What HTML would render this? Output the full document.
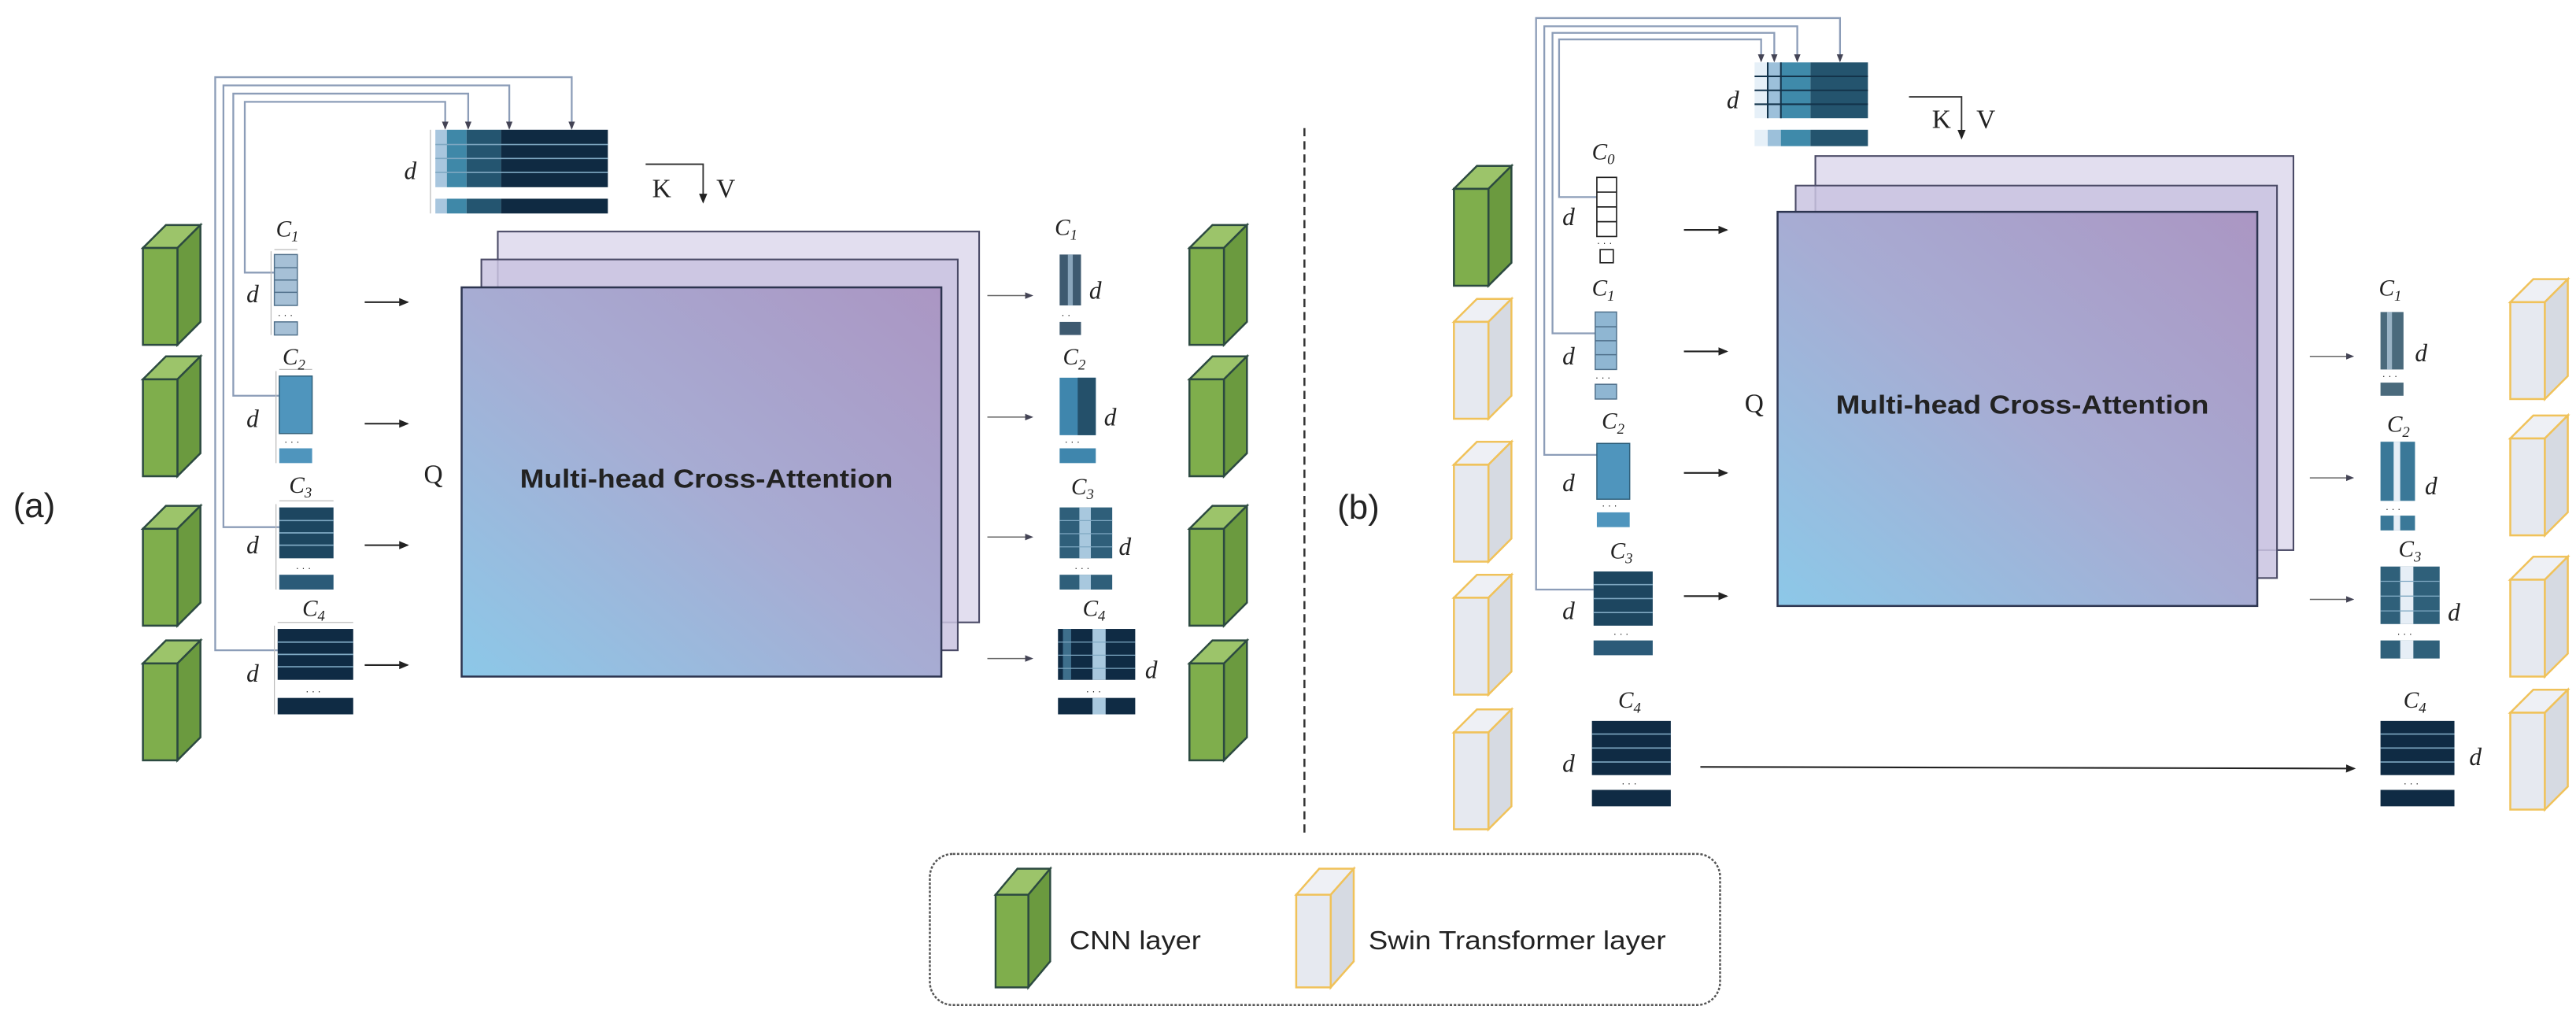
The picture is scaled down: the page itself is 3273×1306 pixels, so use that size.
<!DOCTYPE html>
<html><head><meta charset="utf-8"><style>
html,body{margin:0;padding:0;background:#fff;}
svg{display:block;}
.sf{font-family:"Liberation Serif",serif;font-style:italic;fill:#222;}
.ss{font-family:"Liberation Sans",sans-serif;fill:#222;}
</style></head><body>
<svg width="3273" height="1306" viewBox="0 0 1568 626" preserveAspectRatio="none" xmlns="http://www.w3.org/2000/svg">
<defs>
<linearGradient id="mg" x1="0" y1="1" x2="1" y2="0">
<stop offset="0" stop-color="#8cc8e8"/><stop offset="0.5" stop-color="#a7acd3"/><stop offset="1" stop-color="#ab96c3"/>
</linearGradient>
<marker id="ar" markerWidth="6" markerHeight="6" refX="5" refY="3" orient="auto" markerUnits="userSpaceOnUse">
<path d="M0,0.5 L6,3 L0,5.5 z" fill="#222"/></marker>
<marker id="ar2" markerWidth="5" markerHeight="5" refX="4" refY="2.5" orient="auto" markerUnits="userSpaceOnUse">
<path d="M0,0.5 L5,2.5 L0,4.5 z" fill="#445"/></marker>
<g id="gc">
<polygon points="0,14 14,0 35,0 21,14" fill="#9cc46a" stroke="#2c4a40" stroke-width="1.2"/>
<polygon points="21,14 35,0 35,59 21,73" fill="#6b9a3f" stroke="#2c4a40" stroke-width="1.2"/>
<rect x="0" y="14" width="21" height="59" fill="#7fae4c" stroke="#2c4a40" stroke-width="1.2"/>
</g>
<g id="yc">
<polygon points="0,14 14,0 35,0 21,14" fill="#eef0f5" stroke="#f0c25a" stroke-width="1.2"/>
<polygon points="21,14 35,0 35,59 21,73" fill="#d6dae2" stroke="#f0c25a" stroke-width="1.2"/>
<rect x="0" y="14" width="21" height="59" fill="#e6e9f0" stroke="#f0c25a" stroke-width="1.2"/>
</g>
</defs>

<!-- Panel a -->
<text x="8" y="315" class="ss" font-size="21">(a)</text>
<use href="#gc" x="87" y="137"/><use href="#gc" x="87" y="217"/><use href="#gc" x="87" y="308"/><use href="#gc" x="87" y="390"/>
<use href="#gc" x="724" y="137"/><use href="#gc" x="724" y="217"/><use href="#gc" x="724" y="308"/><use href="#gc" x="724" y="390"/>

<g fill="none" stroke="#8c9db8" stroke-width="1.1">
<polyline points="167,166 149,166 149,62 271,62 271,78" marker-end="url(#ar2)"/>
<polyline points="170,241 142,241 142,57 285,57 285,78" marker-end="url(#ar2)"/>
<polyline points="170,321 136,321 136,52 310,52 310,78" marker-end="url(#ar2)"/>
<polyline points="169,396 131,396 131,47 348,47 348,78" marker-end="url(#ar2)"/>
</g>
<!-- KV matrix a -->
<rect x="265" y="79" width="7" height="35" fill="#a8c6de"/>
<rect x="272" y="79" width="12" height="35" fill="#3f88a8"/>
<rect x="284" y="79" width="21" height="35" fill="#245570"/>
<rect x="305" y="79" width="65" height="35" fill="#0f2a42"/>
<g stroke="#7fa8c2" stroke-width="0.8"><line x1="265" y1="88" x2="370" y2="88"/><line x1="265" y1="96.5" x2="370" y2="96.5"/><line x1="265" y1="105" x2="370" y2="105"/></g>
<rect x="265" y="121" width="7" height="9" fill="#a8c6de"/><rect x="272" y="121" width="12" height="9" fill="#3f88a8"/><rect x="284" y="121" width="21" height="9" fill="#245570"/><rect x="305" y="121" width="65" height="9" fill="#0f2a42"/>
<line x1="262" y1="79" x2="262" y2="130" stroke="#bbb" stroke-width="0.6"/>
<text x="246" y="109" class="sf" font-size="15">d</text>
<polyline points="393,100 428,100 428,123" fill="none" stroke="#333" stroke-width="0.9" marker-end="url(#ar)"/>
<text x="397" y="120" font-family="Liberation Serif,serif" font-size="16" fill="#222">K</text>
<text x="436" y="120" font-family="Liberation Serif,serif" font-size="16" fill="#222">V</text>

<rect x="303" y="141" width="293" height="238" fill="#ddd8ec" fill-opacity="0.85" stroke="#4a4a66" stroke-width="1"/>
<rect x="293" y="158" width="290" height="238" fill="#c9c3e0" fill-opacity="0.85" stroke="#4a4a66" stroke-width="1"/>
<rect x="281" y="175" width="292" height="237" fill="url(#mg)" stroke="#2d3550" stroke-width="1.2"/>
<text x="430" y="297" text-anchor="middle" class="ss" font-size="16" font-weight="bold" textLength="227" lengthAdjust="spacingAndGlyphs" fill="#1a1a2a">Multi-head Cross-Attention</text>
<text x="258" y="294" font-family="Liberation Serif,serif" font-size="16" fill="#222">Q</text>

<g stroke="#222" stroke-width="1"><line x1="222" y1="184" x2="248" y2="184" marker-end="url(#ar)"/><line x1="222" y1="258" x2="248" y2="258" marker-end="url(#ar)"/><line x1="222" y1="332" x2="248" y2="332" marker-end="url(#ar)"/><line x1="222" y1="405" x2="248" y2="405" marker-end="url(#ar)"/></g>
<g stroke="#666" stroke-width="0.7"><line x1="601" y1="180" x2="628" y2="180" marker-end="url(#ar2)"/><line x1="601" y1="254" x2="628" y2="254" marker-end="url(#ar2)"/><line x1="601" y1="327" x2="628" y2="327" marker-end="url(#ar2)"/><line x1="601" y1="401" x2="628" y2="401" marker-end="url(#ar2)"/></g>

<!-- input matrices a -->
<g stroke="#bbb" stroke-width="0.6"><line x1="165" y1="153" x2="165" y2="204"/><line x1="168" y1="226" x2="168" y2="282"/><line x1="168" y1="307" x2="168" y2="359"/><line x1="167" y1="381" x2="167" y2="435"/>
<line x1="167" y1="152" x2="181" y2="152"/><line x1="170" y1="225" x2="190" y2="225"/><line x1="170" y1="305" x2="203" y2="305"/><line x1="169" y1="379" x2="215" y2="379"/></g>
<rect x="167" y="155" width="14" height="31" fill="#a6c0d6" stroke="#4f6f8a" stroke-width="0.7"/>
<g stroke="#4f6f8a" stroke-width="0.7"><line x1="167" y1="163" x2="181" y2="163"/><line x1="167" y1="170.5" x2="181" y2="170.5"/><line x1="167" y1="178" x2="181" y2="178"/></g>
<rect x="167" y="196" width="14" height="8" fill="#a6c0d6" stroke="#4f6f8a" stroke-width="0.7"/>
<rect x="170" y="229" width="20" height="35" fill="#4f95bd" stroke="#2f5f7a" stroke-width="0.7"/>
<rect x="170" y="273" width="20" height="9" fill="#4f95bd"/>
<rect x="170" y="309" width="33" height="31" fill="#1d4660"/>
<g stroke="#7fa8c2" stroke-width="0.8"><line x1="170" y1="317" x2="203" y2="317"/><line x1="170" y1="324.5" x2="203" y2="324.5"/><line x1="170" y1="332" x2="203" y2="332"/></g>
<rect x="170" y="350" width="33" height="9" fill="#2b5a78"/>
<rect x="169" y="383" width="46" height="31" fill="#0f2b44"/>
<g stroke="#7fa8c2" stroke-width="0.8"><line x1="169" y1="391" x2="215" y2="391"/><line x1="169" y1="398.5" x2="215" y2="398.5"/><line x1="169" y1="406" x2="215" y2="406"/></g>
<rect x="169" y="425" width="46" height="10" fill="#0f2b44"/>
<g class="ss" font-size="6" fill="#555"><text x="169" y="194">· · ·</text><text x="173" y="271">· · ·</text><text x="180" y="348">· · ·</text><text x="186" y="423">· · ·</text></g>
<text x="168" y="144" class="sf" font-size="14">C<tspan font-size="9" dy="3">1</tspan></text>
<text x="172" y="222" class="sf" font-size="14">C<tspan font-size="9" dy="3">2</tspan></text>
<text x="176" y="300" class="sf" font-size="14">C<tspan font-size="9" dy="3">3</tspan></text>
<text x="184" y="375" class="sf" font-size="14">C<tspan font-size="9" dy="3">4</tspan></text>
<g class="sf" font-size="15"><text x="150" y="184">d</text><text x="150" y="260">d</text><text x="150" y="337">d</text><text x="150" y="415">d</text></g>

<!-- output matrices a -->
<rect x="645" y="155" width="13" height="31" fill="#3e5a70"/><rect x="650" y="155" width="3" height="31" fill="#8aa6bc"/><rect x="645" y="196" width="13" height="8" fill="#3e5a70"/>
<rect x="645" y="230" width="22" height="35" fill="#3f86ad"/><rect x="656" y="230" width="11" height="35" fill="#24506a"/><rect x="645" y="273" width="22" height="9" fill="#3f86ad"/>
<rect x="645" y="309" width="32" height="31" fill="#2f5f7a"/><rect x="657" y="309" width="7" height="31" fill="#a8c8de"/><rect x="645" y="350" width="32" height="9" fill="#2f5f7a"/><rect x="657" y="350" width="7" height="9" fill="#a8c8de"/>
<rect x="644" y="383" width="47" height="31" fill="#0f2b44"/><rect x="647" y="383" width="5" height="31" fill="#3e6f8c"/><rect x="665" y="383" width="8" height="31" fill="#a8c8de"/><rect x="644" y="425" width="47" height="10" fill="#0f2b44"/><rect x="665" y="425" width="8" height="10" fill="#a8c8de"/>
<g stroke="#7fa8c2" stroke-width="0.6"><line x1="645" y1="317" x2="677" y2="317"/><line x1="645" y1="325" x2="677" y2="325"/><line x1="645" y1="333" x2="677" y2="333"/><line x1="644" y1="391" x2="691" y2="391"/><line x1="644" y1="399" x2="691" y2="399"/><line x1="644" y1="407" x2="691" y2="407"/></g>
<g class="ss" font-size="6" fill="#555"><text x="646" y="194">· ·</text><text x="648" y="271">· · ·</text><text x="654" y="348">· · ·</text><text x="661" y="423">· · ·</text></g>
<text x="642" y="143" class="sf" font-size="14">C<tspan font-size="9" dy="3">1</tspan></text>
<text x="647" y="222" class="sf" font-size="14">C<tspan font-size="9" dy="3">2</tspan></text>
<text x="652" y="301" class="sf" font-size="14">C<tspan font-size="9" dy="3">3</tspan></text>
<text x="659" y="375" class="sf" font-size="14">C<tspan font-size="9" dy="3">4</tspan></text>
<g class="sf" font-size="15"><text x="663" y="182">d</text><text x="672" y="259">d</text><text x="681" y="338">d</text><text x="697" y="413">d</text></g>

<!-- divider -->
<line x1="794" y1="78" x2="794" y2="508" stroke="#333" stroke-width="1.2" stroke-dasharray="5 3"/>

<!-- Panel b -->
<text x="814" y="316" class="ss" font-size="21">(b)</text>
<use href="#gc" x="885" y="101"/>
<use href="#yc" x="885" y="182"/><use href="#yc" x="885" y="269"/><use href="#yc" x="885" y="350"/><use href="#yc" x="885" y="432"/>
<use href="#yc" x="1528" y="170"/><use href="#yc" x="1528" y="253"/><use href="#yc" x="1528" y="339"/><use href="#yc" x="1528" y="420"/>

<g fill="none" stroke="#8c9db8" stroke-width="1.1">
<polyline points="972,120 949,120 949,24 1072,24 1072,37" marker-end="url(#ar2)"/>
<polyline points="971,203 945,203 945,20 1080,20 1080,37" marker-end="url(#ar2)"/>
<polyline points="972,277 940,277 940,16 1094,16 1094,37" marker-end="url(#ar2)"/>
<polyline points="970,359 935,359 935,11 1120,11 1120,37" marker-end="url(#ar2)"/>
</g>
<rect x="1068" y="38" width="8" height="34" fill="#e6f0f8"/>
<rect x="1076" y="38" width="8" height="34" fill="#9cc0da"/>
<rect x="1084" y="38" width="18" height="34" fill="#3f8aaa"/>
<rect x="1102" y="38" width="35" height="34" fill="#24546e"/>
<g stroke="#13334a" stroke-width="1"><line x1="1068" y1="46.5" x2="1137" y2="46.5"/><line x1="1068" y1="55" x2="1137" y2="55"/><line x1="1068" y1="63.5" x2="1137" y2="63.5"/><line x1="1076" y1="38" x2="1076" y2="72"/><line x1="1084" y1="38" x2="1084" y2="72"/></g>
<rect x="1068" y="79" width="8" height="10" fill="#e6f0f8"/><rect x="1076" y="79" width="8" height="10" fill="#9cc0da"/><rect x="1084" y="79" width="18" height="10" fill="#3f8aaa"/><rect x="1102" y="79" width="35" height="10" fill="#24546e"/>
<text x="1051" y="66" class="sf" font-size="15">d</text>
<polyline points="1162,59 1194,59 1194,84" fill="none" stroke="#333" stroke-width="0.9" marker-end="url(#ar)"/>
<text x="1176" y="78" font-family="Liberation Serif,serif" font-size="16" fill="#222">K</text>
<text x="1203" y="78" font-family="Liberation Serif,serif" font-size="16" fill="#222">V</text>

<rect x="1105" y="95" width="291" height="240" fill="#ddd8ec" fill-opacity="0.85" stroke="#4a4a66" stroke-width="1"/>
<rect x="1093" y="113" width="293" height="239" fill="#c9c3e0" fill-opacity="0.85" stroke="#4a4a66" stroke-width="1"/>
<rect x="1082" y="129" width="292" height="240" fill="url(#mg)" stroke="#2d3550" stroke-width="1.2"/>
<text x="1231" y="252" text-anchor="middle" class="ss" font-size="16" font-weight="bold" textLength="227" lengthAdjust="spacingAndGlyphs" fill="#1a1a2a">Multi-head Cross-Attention</text>
<text x="1062" y="251" font-family="Liberation Serif,serif" font-size="16" fill="#222">Q</text>

<g stroke="#222" stroke-width="1"><line x1="1025" y1="140" x2="1051" y2="140" marker-end="url(#ar)"/><line x1="1025" y1="214" x2="1051" y2="214" marker-end="url(#ar)"/><line x1="1025" y1="288" x2="1051" y2="288" marker-end="url(#ar)"/><line x1="1025" y1="363" x2="1051" y2="363" marker-end="url(#ar)"/>
<line x1="1035" y1="467" x2="1433" y2="468" marker-end="url(#ar)"/></g>
<g stroke="#666" stroke-width="0.7"><line x1="1406" y1="217" x2="1432" y2="217" marker-end="url(#ar2)"/><line x1="1406" y1="291" x2="1432" y2="291" marker-end="url(#ar2)"/><line x1="1406" y1="365" x2="1432" y2="365" marker-end="url(#ar2)"/></g>

<!-- inputs b -->
<rect x="972" y="108" width="12" height="36" fill="#fff" stroke="#222" stroke-width="0.8"/>
<g stroke="#222" stroke-width="0.8"><line x1="972" y1="117" x2="984" y2="117"/><line x1="972" y1="126" x2="984" y2="126"/><line x1="972" y1="135" x2="984" y2="135"/></g>
<rect x="974" y="152" width="8" height="8" fill="#fff" stroke="#222" stroke-width="0.8"/>
<rect x="971" y="190" width="13" height="35" fill="#8fb6d2" stroke="#4f6f8a" stroke-width="0.7"/>
<g stroke="#4f6f8a" stroke-width="0.7"><line x1="971" y1="199" x2="984" y2="199"/><line x1="971" y1="207.5" x2="984" y2="207.5"/><line x1="971" y1="216" x2="984" y2="216"/></g>
<rect x="971" y="234" width="13" height="9" fill="#8fb6d2" stroke="#4f6f8a" stroke-width="0.7"/>
<rect x="972" y="270" width="20" height="34" fill="#4f95bd" stroke="#2f5f7a" stroke-width="0.7"/>
<rect x="972" y="312" width="20" height="9" fill="#4f95bd"/>
<rect x="970" y="348" width="36" height="33" fill="#1d4660"/>
<g stroke="#7fa8c2" stroke-width="0.8"><line x1="970" y1="356" x2="1006" y2="356"/><line x1="970" y1="364.5" x2="1006" y2="364.5"/><line x1="970" y1="373" x2="1006" y2="373"/></g>
<rect x="970" y="390" width="36" height="9" fill="#2b5a78"/>
<rect x="969" y="439" width="48" height="33" fill="#0f2b44"/>
<g stroke="#7fa8c2" stroke-width="0.8"><line x1="969" y1="447" x2="1017" y2="447"/><line x1="969" y1="455.5" x2="1017" y2="455.5"/><line x1="969" y1="464" x2="1017" y2="464"/></g>
<rect x="969" y="481" width="48" height="10" fill="#0f2b44"/>
<g class="ss" font-size="6" fill="#555"><text x="972" y="150">· · ·</text><text x="971" y="232">· · ·</text><text x="975" y="310">· · ·</text><text x="982" y="388">· · ·</text><text x="987" y="479">· · ·</text></g>
<text x="969" y="97" class="sf" font-size="14">C<tspan font-size="9" dy="3">0</tspan></text>
<text x="969" y="180" class="sf" font-size="14">C<tspan font-size="9" dy="3">1</tspan></text>
<text x="975" y="261" class="sf" font-size="14">C<tspan font-size="9" dy="3">2</tspan></text>
<text x="980" y="340" class="sf" font-size="14">C<tspan font-size="9" dy="3">3</tspan></text>
<text x="985" y="431" class="sf" font-size="14">C<tspan font-size="9" dy="3">4</tspan></text>
<g class="sf" font-size="15"><text x="951" y="137">d</text><text x="951" y="222">d</text><text x="951" y="299">d</text><text x="951" y="377">d</text><text x="951" y="470">d</text></g>

<!-- outputs b -->
<rect x="1449" y="190" width="14" height="35" fill="#4a6a7c"/><rect x="1453" y="190" width="3" height="35" fill="#9ab4c6"/><rect x="1449" y="233" width="14" height="8" fill="#4a6a7c"/>
<rect x="1449" y="269" width="21" height="36" fill="#3a7898"/><rect x="1457" y="269" width="4" height="36" fill="#e6eef6"/><rect x="1449" y="314" width="21" height="9" fill="#3a7898"/><rect x="1457" y="314" width="4" height="9" fill="#e6eef6"/>
<rect x="1449" y="345" width="36" height="35" fill="#2f607a"/><rect x="1461" y="345" width="8" height="35" fill="#e6eef6"/><rect x="1449" y="390" width="36" height="11" fill="#2f607a"/><rect x="1461" y="390" width="8" height="11" fill="#e6eef6"/>
<g stroke="#7fa8c2" stroke-width="0.6"><line x1="1449" y1="354" x2="1485" y2="354"/><line x1="1449" y1="363" x2="1485" y2="363"/><line x1="1449" y1="372" x2="1485" y2="372"/></g>
<rect x="1449" y="439" width="45" height="33" fill="#0f2b44"/>
<g stroke="#7fa8c2" stroke-width="0.8"><line x1="1449" y1="447" x2="1494" y2="447"/><line x1="1449" y1="455.5" x2="1494" y2="455.5"/><line x1="1449" y1="464" x2="1494" y2="464"/></g>
<rect x="1449" y="481" width="45" height="10" fill="#0f2b44"/>
<g class="ss" font-size="6" fill="#555"><text x="1450" y="231">· · ·</text><text x="1452" y="312">· · ·</text><text x="1459" y="388">· · ·</text><text x="1463" y="479">· · ·</text></g>
<text x="1448" y="180" class="sf" font-size="14">C<tspan font-size="9" dy="3">1</tspan></text>
<text x="1453" y="263" class="sf" font-size="14">C<tspan font-size="9" dy="3">2</tspan></text>
<text x="1460" y="339" class="sf" font-size="14">C<tspan font-size="9" dy="3">3</tspan></text>
<text x="1463" y="431" class="sf" font-size="14">C<tspan font-size="9" dy="3">4</tspan></text>
<g class="sf" font-size="15"><text x="1470" y="220">d</text><text x="1476" y="301">d</text><text x="1490" y="378">d</text><text x="1503" y="466">d</text></g>

<!-- legend -->
<rect x="566" y="520" width="481" height="92" rx="14" fill="#fff" stroke="#555" stroke-width="1.2" stroke-dasharray="1.5 1"/>
<g transform="translate(606,529) scale(0.95,0.99)">
<polygon points="0,16 14,0 35,0 21,16" fill="#9cc46a" stroke="#2c4a40" stroke-width="1.2"/>
<polygon points="21,16 35,0 35,57 21,73" fill="#6b9a3f" stroke="#2c4a40" stroke-width="1.2"/>
<rect x="0" y="16" width="21" height="57" fill="#7fae4c" stroke="#2c4a40" stroke-width="1.2"/>
</g>
<g transform="translate(789,529) scale(1,0.99)">
<polygon points="0,16 14,0 35,0 21,16" fill="#eef0f5" stroke="#f0c25a" stroke-width="1.2"/>
<polygon points="21,16 35,0 35,57 21,73" fill="#d6dae2" stroke="#f0c25a" stroke-width="1.2"/>
<rect x="0" y="16" width="21" height="57" fill="#e6e9f0" stroke="#f0c25a" stroke-width="1.2"/>
</g>
<text x="651" y="578" class="ss" font-size="16" textLength="80" lengthAdjust="spacingAndGlyphs">CNN layer</text>
<text x="833" y="578" class="ss" font-size="16" textLength="181" lengthAdjust="spacingAndGlyphs">Swin Transformer layer</text>
</svg>
</body></html>
